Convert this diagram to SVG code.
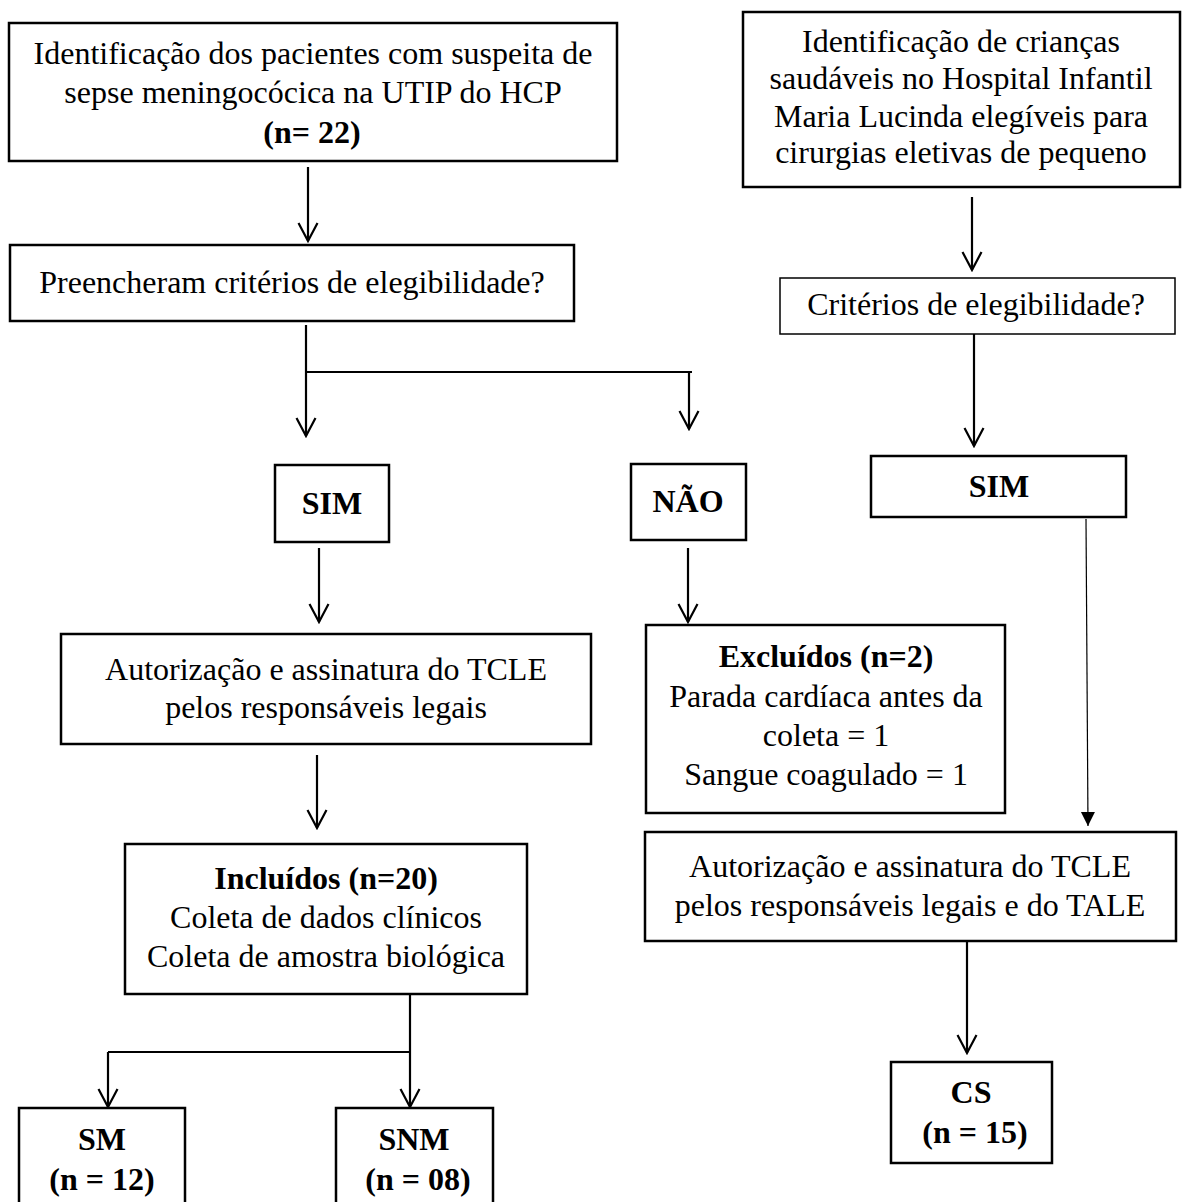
<svg xmlns="http://www.w3.org/2000/svg" width="1183" height="1202" viewBox="0 0 1183 1202">
<style>
  .box { fill: #fff; stroke: #000; stroke-width: 2.5; }
  .thin { fill: #fff; stroke: #000; stroke-width: 1.5; }
  text { font-family: "Liberation Serif", "Times New Roman", serif; font-size: 32px; fill: #000; text-anchor: middle; }
  .b { font-weight: bold; }
  .ln { fill: none; stroke: #000; stroke-width: 2.2; }
  .ln1 { fill: none; stroke: #000; stroke-width: 1.2; }
</style>
<defs>
  <marker id="open" viewBox="-21 -11 23 22" refX="0" refY="0" markerWidth="23" markerHeight="22" markerUnits="userSpaceOnUse" orient="auto">
    <path d="M-18,-9.5 L0,0 L-18,9.5" fill="none" stroke="#000" stroke-width="2.2"/>
  </marker>
  <marker id="solid" viewBox="-15 -8 16 16" refX="0" refY="0" markerWidth="16" markerHeight="16" markerUnits="userSpaceOnUse" orient="auto">
    <path d="M-14,-7 L0,0 L-14,7 Z" fill="#000"/>
  </marker>
</defs>
<rect width="1183" height="1202" fill="#fff"/>

<g id="connectors">
  <line class="ln" x1="308" y1="167" x2="308" y2="241" marker-end="url(#open)"/>
  <line class="ln" x1="306" y1="325" x2="306" y2="436" marker-end="url(#open)"/>
  <line class="ln" x1="306" y1="372" x2="692" y2="372"/>
  <line class="ln" x1="689" y1="372" x2="689" y2="429" marker-end="url(#open)"/>
  <line class="ln" x1="319" y1="548" x2="319" y2="622" marker-end="url(#open)"/>
  <line class="ln" x1="688" y1="548" x2="688" y2="622" marker-end="url(#open)"/>
  <line class="ln" x1="317" y1="755" x2="317" y2="828" marker-end="url(#open)"/>
  <line class="ln" x1="410" y1="994" x2="410" y2="1107" marker-end="url(#open)"/>
  <line class="ln" x1="108" y1="1052" x2="410" y2="1052"/>
  <line class="ln" x1="108" y1="1052" x2="108" y2="1107" marker-end="url(#open)"/>
  <line class="ln" x1="972" y1="197" x2="972" y2="270" marker-end="url(#open)"/>
  <line class="ln" x1="974" y1="334" x2="974" y2="446" marker-end="url(#open)"/>
  <line class="ln1" x1="1086" y1="519" x2="1088" y2="826" marker-end="url(#solid)"/>
  <line class="ln" x1="967" y1="941" x2="967" y2="1053" marker-end="url(#open)"/>
</g>

<g id="n-identificacao-pacientes">
  <rect class="box" x="9" y="23" width="608" height="138"/>
  <text x="313" y="64">Identificação dos pacientes com suspeita de</text>
  <text x="313" y="103">sepse meningocócica na UTIP do HCP</text>
  <text class="b" x="312" y="143">(n= 22)</text>
</g>

<g id="n-preencheram">
  <rect class="box" x="10" y="245" width="564" height="76"/>
  <text x="292" y="293">Preencheram critérios de elegibilidade?</text>
</g>

<g id="n-sim-left">
  <rect class="box" x="275" y="465" width="114" height="77"/>
  <text class="b" x="332" y="514">SIM</text>
</g>

<g id="n-nao">
  <rect class="box" x="631" y="464" width="115" height="76"/>
  <text class="b" x="688" y="512">NÃO</text>
</g>

<g id="n-autorizacao-left">
  <rect class="box" x="61" y="634" width="530" height="110"/>
  <text x="326" y="680">Autorização e assinatura do TCLE</text>
  <text x="326" y="718">pelos responsáveis legais</text>
</g>

<g id="n-excluidos">
  <rect class="box" x="646" y="625" width="359" height="188"/>
  <text class="b" x="826" y="667">Excluídos (n=2)</text>
  <text x="826" y="707">Parada cardíaca antes da</text>
  <text x="826" y="746">coleta = 1</text>
  <text x="826" y="785">Sangue coagulado = 1</text>
</g>

<g id="n-incluidos">
  <rect class="box" x="125" y="844" width="402" height="150"/>
  <text class="b" x="326" y="889">Incluídos (n=20)</text>
  <text x="326" y="928">Coleta de dados clínicos</text>
  <text x="326" y="967">Coleta de amostra biológica</text>
</g>

<g id="n-sm">
  <rect class="box" x="19" y="1108" width="166" height="104"/>
  <text class="b" x="102" y="1150">SM</text>
  <text class="b" x="102" y="1190">(n = 12)</text>
</g>

<g id="n-snm">
  <rect class="box" x="336" y="1108" width="157" height="104"/>
  <text class="b" x="414" y="1150">SNM</text>
  <text class="b" x="418" y="1190">(n = 08)</text>
</g>

<g id="n-identificacao-criancas">
  <rect class="box" x="743" y="12" width="437" height="175"/>
  <text x="961" y="52">Identificação de crianças</text>
  <text x="961" y="89">saudáveis no Hospital Infantil</text>
  <text x="961" y="127">Maria Lucinda elegíveis para</text>
  <text x="961" y="163">cirurgias eletivas de pequeno</text>
</g>

<g id="n-criterios">
  <rect class="thin" x="780" y="278" width="395" height="56"/>
  <text x="976" y="315">Critérios de elegibilidade?</text>
</g>

<g id="n-sim-right">
  <rect class="box" x="871" y="456" width="255" height="61"/>
  <text class="b" x="999" y="497">SIM</text>
</g>

<g id="n-autorizacao-right">
  <rect class="box" x="645" y="832" width="531" height="109"/>
  <text x="910" y="877">Autorização e assinatura do TCLE</text>
  <text x="910" y="916">pelos responsáveis legais e do TALE</text>
</g>

<g id="n-cs">
  <rect class="box" x="891" y="1062" width="161" height="101"/>
  <text class="b" x="971" y="1103">CS</text>
  <text class="b" x="975" y="1143">(n = 15)</text>
</g>
</svg>
